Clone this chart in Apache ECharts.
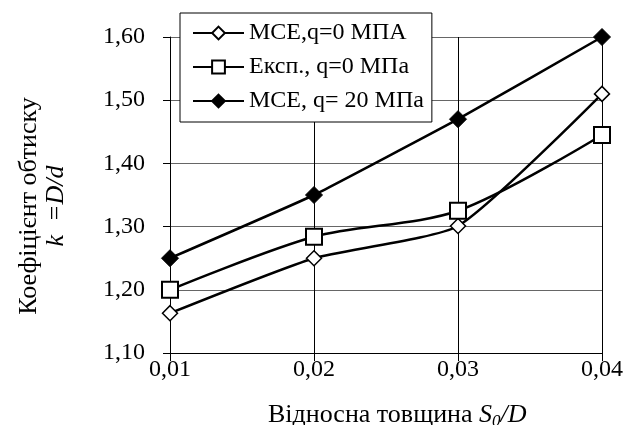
<!DOCTYPE html>
<html><head><meta charset="utf-8">
<script src="https://cdn.jsdelivr.net/npm/echarts@6/dist/echarts.min.js"></script>
<style>html,body{margin:0;padding:0;background:#fff}#c{width:628px;height:425px}</style>
</head><body><div id="c"></div>
<script>
const categories = ['0,01', '0,02', '0,03', '0,04'];
const mceQ0 = [1.163, 1.25, 1.301, 1.51];
const expQ0 = [1.20, 1.284, 1.325, 1.445];
const mceQ20 = [1.25, 1.35, 1.47, 1.60];
const seriesNames = ['МСЕ,q=0 МПА', 'Експ., q=0 МПа', 'МСЕ, q= 20 МПа'];
const yTicks = { min: 1.1, max: 1.6, interval: 0.1 };

const FONT = '"Liberation Serif", "Times New Roman", serif';
const FS = 24;
const TFS = 26;
const chart = echarts.init(document.getElementById('c'));
const lineStyle = { color: '#000', width: 2.5 };
chart.setOption({
  animation: false,
  backgroundColor: '#fff',
  textStyle: { fontFamily: FONT, color: '#000' },
  grid: { left: 170, right: 26, top: 37, bottom: 72 },
  legend: {
    orient: 'vertical', left: 180, top: 13,
    backgroundColor: '#fff', borderColor: '#000', borderWidth: 1,
    padding: [8, 8, 9, 12],
    itemGap: 10, itemWidth: 51, itemHeight: 16,
    textStyle: { fontFamily: FONT, fontSize: FS, lineHeight: 24, color: '#000', padding: [0, 0, 0, 0] },
    data: seriesNames
  },
  xAxis: {
    type: 'category', data: categories, boundaryGap: false,
    axisLine: { lineStyle: { color: '#000', width: 1 } },
    axisTick: { show: true, length: 8, lineStyle: { color: '#000' } },
    splitLine: { show: true, lineStyle: { color: '#000', width: 1 } },
    axisLabel: { fontFamily: FONT, fontSize: FS, color: '#000', margin: 5 }
  },
  yAxis: {
    type: 'value', min: yTicks.min, max: yTicks.max, interval: yTicks.interval,
    axisLine: { show: true, lineStyle: { color: '#000', width: 1 } },
    axisTick: { show: true, length: 7, lineStyle: { color: '#000' } },
    splitLine: { show: true, lineStyle: { color: '#666', width: 1 } },
    axisLabel: { fontFamily: FONT, fontSize: FS, color: '#000', margin: 25,
      formatter: v => v.toFixed(2).replace('.', ',') }
  },
  graphic: [
    {
      type: 'text', x: 43, y: 206, rotation: Math.PI / 2,
      style: {
        text: '{a|Коефіцієнт обтиску}\n{i|k  =D/d}',
        x: 0, y: 0, align: 'center', verticalAlign: 'middle',
        rich: {
          a: { fontFamily: FONT, fontSize: TFS, lineHeight: 27, fill: '#000', align: 'center' },
          i: { fontFamily: FONT, fontSize: TFS, lineHeight: 27, fontStyle: 'italic', fill: '#000', align: 'center' }
        }
      }
    },
    {
      type: 'text', x: 268, y: 415,
      style: {
        text: '{a|Відносна товщина }{i|S}{s|0}{i|/D}',
        x: 0, y: 0, align: 'left', verticalAlign: 'middle',
        rich: {
          a: { fontFamily: FONT, fontSize: TFS, fill: '#000' },
          i: { fontFamily: FONT, fontSize: TFS, fontStyle: 'italic', fill: '#000' },
          s: { fontFamily: FONT, fontSize: 17, fontStyle: 'italic', fill: '#000', padding: [14, 0, 0, 0] }
        }
      }
    }
  ],
  series: [
    { name: seriesNames[0], type: 'line', data: mceQ0, smooth: 0.18,
      symbol: 'diamond', symbolSize: 15, lineStyle,
      itemStyle: { color: '#fff', borderColor: '#000', borderWidth: 1.5 } },
    { name: seriesNames[1], type: 'line', data: expQ0, smooth: 0.3,
      symbol: 'rect', symbolSize: 16, lineStyle,
      itemStyle: { color: '#fff', borderColor: '#000', borderWidth: 2 } },
    { name: seriesNames[2], type: 'line', data: mceQ20, smooth: 0.1,
      symbol: 'diamond', symbolSize: 17, lineStyle,
      itemStyle: { color: '#000', borderColor: '#000', borderWidth: 1 } }
  ]
});
</script></body></html>
